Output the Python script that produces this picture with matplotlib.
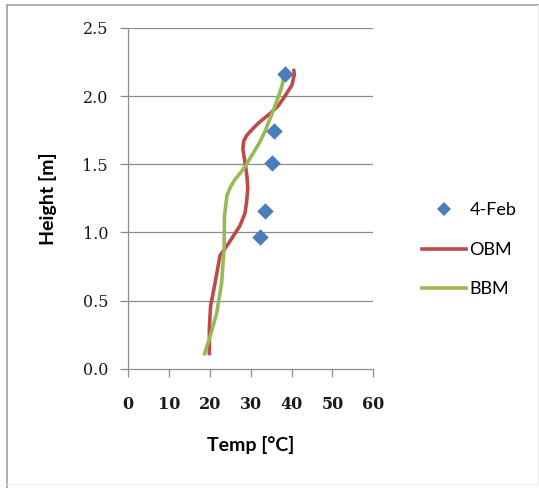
import matplotlib
matplotlib.use("Agg")
import matplotlib.pyplot as plt
from matplotlib.lines import Line2D

plt.rcParams['font.family'] = ['Lato', 'DejaVu Sans']

# Measured profile (4-Feb)
meas_temp = [38.4, 35.8, 35.3, 33.5, 32.2]
meas_height = [2.16, 1.745, 1.507, 1.157, 0.968]

# OBM model profile
obm_temp = [19.9, 19.9, 20.2, 21.3, 22.5, 24.6, 27.4, 28.6, 29.0, 29.3, 29.1, 28.7,
            28.1, 28.3, 29.0, 30.5, 32.2, 34.7, 36.8, 38.4, 40.1, 40.7, 40.5]
obm_height = [0.10, 0.30, 0.46, 0.63, 0.83, 0.92, 1.05, 1.14, 1.22, 1.32, 1.41, 1.50,
              1.61, 1.67, 1.71, 1.76, 1.81, 1.87, 1.93, 2.00, 2.08, 2.16, 2.20]

# BBM model profile
bbm_temp = [18.6, 20.1, 21.7, 22.9, 23.5, 23.6, 24.2, 25.0, 26.2, 27.6, 29.0, 30.6,
            32.2, 33.5, 34.7, 36.0, 37.2, 37.9, 37.9]
bbm_height = [0.10, 0.24, 0.41, 0.63, 0.88, 1.12, 1.27, 1.33, 1.39, 1.44, 1.50, 1.58,
              1.66, 1.74, 1.83, 1.93, 2.03, 2.10, 2.15]

xticks = [0, 10, 20, 30, 40, 50, 60]
yticks = [0.0, 0.5, 1.0, 1.5, 2.0, 2.5]

fig = plt.figure(figsize=(5.39, 4.88), dpi=100)
ax = fig.add_axes([0.2375, 0.244, 0.455, 0.699])

grid_col = '#8c8c8c'
for y in yticks[1:]:
    ax.axhline(y, color=grid_col, lw=0.9, zorder=0)

ax.plot(obm_temp, obm_height, color='#be4b48', lw=2.6, solid_capstyle='butt', zorder=2)
ax.plot(bbm_temp, bbm_height, color='#98b954', lw=2.6, solid_capstyle='butt', zorder=3)
ax.scatter(meas_temp, meas_height, marker='D', s=70, color='#4a7ebb', zorder=4, linewidths=0)

ax.set_xlim(0, 60)
ax.set_ylim(0, 2.5)
ax.set_xticks(xticks)
ax.set_yticks(yticks)
ax.set_xticklabels([str(t) for t in xticks])
ax.set_yticklabels([f'{t:.1f}' for t in yticks])

for s in ['top', 'right']:
    ax.spines[s].set_visible(False)
for s in ['left', 'bottom']:
    ax.spines[s].set_color(grid_col)
    ax.spines[s].set_linewidth(0.9)

ax.tick_params(axis='both', direction='out', color=grid_col, length=5.8, width=0.9,
               labelsize=11.5, labelcolor='#1a1a1a')
ax.tick_params(axis='x', pad=14)
ax.tick_params(axis='y', pad=8.6)
for lbl in ax.get_xticklabels() + ax.get_yticklabels():
    lbl.set_family('DejaVu Serif')
for lbl in ax.get_xticklabels():
    lbl.set_fontweight('bold')

ax.set_xlabel('Temp [°C]', fontsize=14, fontweight='bold')
ax.set_ylabel('Height [m]', fontsize=14, fontweight='bold')
ax.xaxis.set_label_coords(0.5, -0.198)
ax.yaxis.set_label_coords(-0.288, 0.5)

handles = [
    Line2D([], [], marker='D', color='#4a7ebb', ls='none', markersize=7, markeredgewidth=0),
    Line2D([], [], color='#be4b48', lw=2.6),
    Line2D([], [], color='#98b954', lw=2.6),
]
fig.legend(handles, ['4-Feb', 'OBM', 'BBM'], loc='center left',
           bbox_to_anchor=(0.752, 0.488), frameon=False, fontsize=13,
           labelspacing=1.3, handlelength=2.45, handletextpad=0.2)

# Outer frame around the chart area
fig.add_artist(Line2D([0.013, 0.013], [0.0, 0.99], transform=fig.transFigure,
                      color='#a8a8a8', lw=1.3))
fig.add_artist(Line2D([0.013, 1.0], [0.99, 0.99], transform=fig.transFigure,
                      color='#a8a8a8', lw=1.3))
fig.add_artist(Line2D([0.013, 1.0], [0.008, 0.008], transform=fig.transFigure,
                      color='#eeeeee', lw=1.0))
fig.add_artist(Line2D([0.998, 0.998], [0.008, 0.99], transform=fig.transFigure,
                      color='#eeeeee', lw=1.0))

fig.savefig('out.png', dpi=100)
